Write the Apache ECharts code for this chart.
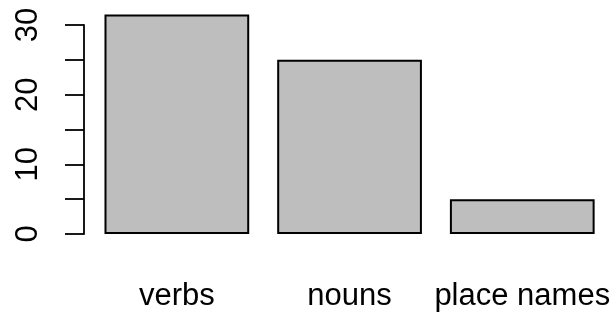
<!DOCTYPE html>
<html>
<head>
<meta charset="utf-8">
<script src="https://cdn.jsdelivr.net/npm/echarts@6/dist/echarts.min.js"></script>
<style>
  html, body { margin: 0; padding: 0; background: #fff; }
  #chart { width: 613px; height: 313px; }
</style>
</head>
<body>
<div id="chart"></div>
<script>
// word type counts
const categories = ['verbs', 'nouns', 'place names']
const counts = [31.5, 25, 5]
const yTicks = [0, 5, 10, 15, 20, 25, 30]
const yLabels = [0, 10, 20, 30]

const chart = echarts.init(document.getElementById('chart'))
chart.setOption({
  animation: false,
  backgroundColor: '#fff',
  grid: { left: 90.5, right: 3.5, top: 25, bottom: 79 },
  xAxis: {
    type: 'category',
    data: categories,
    boundaryGap: true,
    axisLine: { show: false },
    axisTick: { show: false },
    axisLabel: {
      color: '#000',
      fontFamily: 'Liberation Sans, Arial, sans-serif',
      fontSize: 31,
      interval: 0,
      hideOverlap: false,
      margin: 47
    }
  },
  yAxis: {
    type: 'value',
    min: yTicks[0],
    max: yTicks[yTicks.length - 1],
    interval: 5,
    offset: 6.5,
    splitLine: { show: false },
    axisLine: { show: true, lineStyle: { color: '#000', width: 1.8 } },
    axisTick: { show: true, length: 19, lineStyle: { color: '#000', width: 1.8 } },
    axisLabel: {
      color: '#000',
      fontFamily: 'Liberation Sans, Arial, sans-serif',
      fontSize: 31,
      rotate: 90,
      margin: 40,
      hideOverlap: false,
      formatter: v => (yLabels.includes(v) ? String(v) : '')
    }
  },
  series: [{
    type: 'bar',
    data: counts,
    clip: false,
    barCategoryGap: '16.2%',
    itemStyle: { color: '#bebebe', borderColor: '#000', borderWidth: 2 }
  }]
})
</script>
</body>
</html>
